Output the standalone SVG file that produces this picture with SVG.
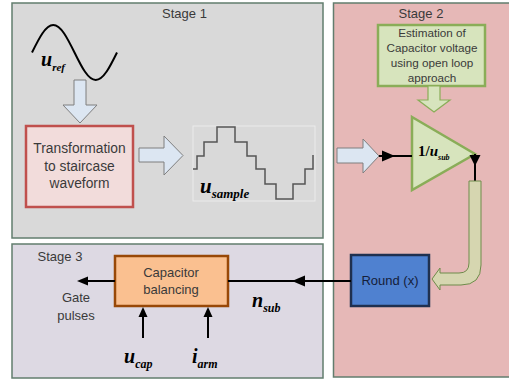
<svg xmlns="http://www.w3.org/2000/svg" width="509" height="383" viewBox="0 0 509 383">
<style>
.stage{stroke:#627d6e;stroke-width:1.5}
.lbl{font-family:"Liberation Sans",Arial,sans-serif;fill:#3a3a3a;text-anchor:middle}
.math{font-family:"Liberation Serif","Times New Roman",serif;font-weight:bold;font-style:italic;fill:#000}
.barrow{fill:#dce6f2;stroke:#7f7f7f;stroke-width:1}
.wire{stroke:#000;stroke-width:2;fill:none}
.head{fill:#000}
</style>
<rect width="509" height="383" fill="#ffffff"/>
<g id="stage1">
<rect class="stage" x="12" y="3" width="311" height="235" fill="#d9d9d9"/>
<text class="lbl" x="184.5" y="18" font-size="13">Stage 1</text>
</g>
<g id="stage2">
<rect class="stage" x="333.5" y="3" width="180" height="374" fill="#e6b8b7"/>
<text class="lbl" x="421" y="18" font-size="13">Stage 2</text>
</g>
<g id="stage3">
<rect class="stage" x="12" y="244" width="311" height="134" fill="#ddd9e3"/>
<text class="lbl" x="60" y="261" font-size="13">Stage 3</text>
</g>
<g id="uref">
<path d="M32,52.5 C38.93,38.41 45.56,25 53.25,25 C60.94,25 67.57,38.41 74.5,52.5 C81.43,66.59 88.06,80 95.75,80 C103.44,80 110.07,66.59 117,52.5" fill="none" stroke="#000" stroke-width="2"/>
<text class="math" x="41" y="66" font-size="20">u<tspan font-size="11" dy="5">ref</tspan></text>
</g>
<g id="transform">
<rect x="26" y="126" width="107" height="81" fill="#f2dcdb" stroke="#c0504d" stroke-width="2.5"/>
<text class="lbl" x="79.5" y="153" font-size="13.8">Transformation</text>
<text class="lbl" x="79.5" y="171" font-size="13.8">to staircase</text>
<text class="lbl" x="79.5" y="188" font-size="13.8">waveform</text>
</g>
<g id="usample">
<rect x="193" y="126" width="122" height="75" fill="none" stroke="#efefef" stroke-width="0.8"/>
<path d="M193,169 H197 V156 H204 V142 H217 V127 H235 V142 H247 V156 H256 V169 H265 V184 H276 V199 H293 V184 H305 V169 H313 V155" fill="none" stroke="#555" stroke-width="1.5"/>
<text class="math" x="200" y="193" font-size="21">u<tspan font-size="13" dy="5">sample</tspan></text>
</g>
<g id="estimation">
<rect x="378" y="25" width="107" height="61" fill="#d7e4bd" stroke="#8aad58" stroke-width="2.5"/>
<text class="lbl" x="432" y="37" font-size="11.7">Estimation of</text>
<text class="lbl" x="432" y="52" font-size="11.7">Capacitor voltage</text>
<text class="lbl" x="432" y="67" font-size="11.7">using open loop</text>
<text class="lbl" x="432" y="82" font-size="11.7">approach</text>
</g>
<g id="gain">
<polygon points="412,117 475,154 412,190" fill="#d7e4bd" stroke="#8aad58" stroke-width="2.5" stroke-linejoin="miter"/>
<text x="418" y="156" font-family="'Liberation Serif','Times New Roman',serif" font-weight="bold" font-size="15">1/<tspan font-style="italic">u</tspan><tspan font-style="italic" font-size="8" dy="4">sub</tspan></text>
</g>
<g id="round">
<rect x="351" y="255" width="78" height="51" fill="#4f81d0" stroke="#1f3050" stroke-width="2.5"/>
<text class="lbl" x="390" y="284.5" font-size="13" fill="#1a1a2a" style="fill:#15203a">Round (x)</text>
</g>
<g id="balancing">
<rect x="115" y="256" width="113" height="50" fill="#fac090" stroke="#984807" stroke-width="2.5"/>
<text class="lbl" x="171" y="276.5" font-size="13">Capacitor</text>
<text class="lbl" x="171" y="294" font-size="13">balancing</text>
</g>
<g id="gate">
<text class="lbl" x="76" y="301.5" font-size="13">Gate</text>
<text class="lbl" x="76" y="319.5" font-size="13">pulses</text>
</g>
<g id="ucap"><text class="math" x="124" y="363" font-size="20">u<tspan font-size="12" dy="5">cap</tspan></text></g>
<g id="iarm"><text class="math" x="192" y="363" font-size="20">i<tspan font-size="12" dy="5">arm</tspan></text></g>
<g id="nsub"><text class="math" x="252" y="307" font-size="20">n<tspan font-size="12" dy="5">sub</tspan></text></g>
<g id="connectors">
<polygon class="barrow" points="74,80 86,80 86,105 97,105 80,123 63,105 74,105"/>
<polygon class="barrow" points="139,148 164,148 164,136 183,155.5 164,175 164,162 139,162"/>
<polygon class="barrow" points="337,148 363,148 363,139 379,156 363,173 363,163 337,163"/>
<polygon points="428,86 440,86 440,100 450,100 434,112 418,100 428,100" fill="#d7e4bd" stroke="#8aad58" stroke-width="1.2"/>
<line class="wire" x1="379" y1="156" x2="412" y2="156"/>
<polygon class="head" points="382,150.5 395,156 382,161.5"/>
<line class="wire" x1="475" y1="154" x2="475" y2="182"/>
<polygon class="head" points="469.5,155 480.5,155 475,166"/>
<path d="M469,181 H481 V265 Q481,285 461,285 H440 V290 L432,279 L440,268 V273 H459 Q469,273 469,263 Z" fill="#d6d6b0" stroke="#6e8b4a" stroke-width="1"/>
<line class="wire" x1="351" y1="281" x2="228" y2="281"/>
<polygon class="head" points="292,281 305,275.5 305,286.5"/>
<line class="wire" x1="115" y1="281" x2="84" y2="281"/>
<polygon class="head" points="77,281 88,276.5 88,285.5"/>
<line class="wire" x1="143" y1="338" x2="143" y2="314"/>
<polygon class="head" points="143,307 138.5,317 147.5,317"/>
<line class="wire" x1="208" y1="338" x2="208" y2="314"/>
<polygon class="head" points="208,307 203.5,317 212.5,317"/>
</g>
</svg>
